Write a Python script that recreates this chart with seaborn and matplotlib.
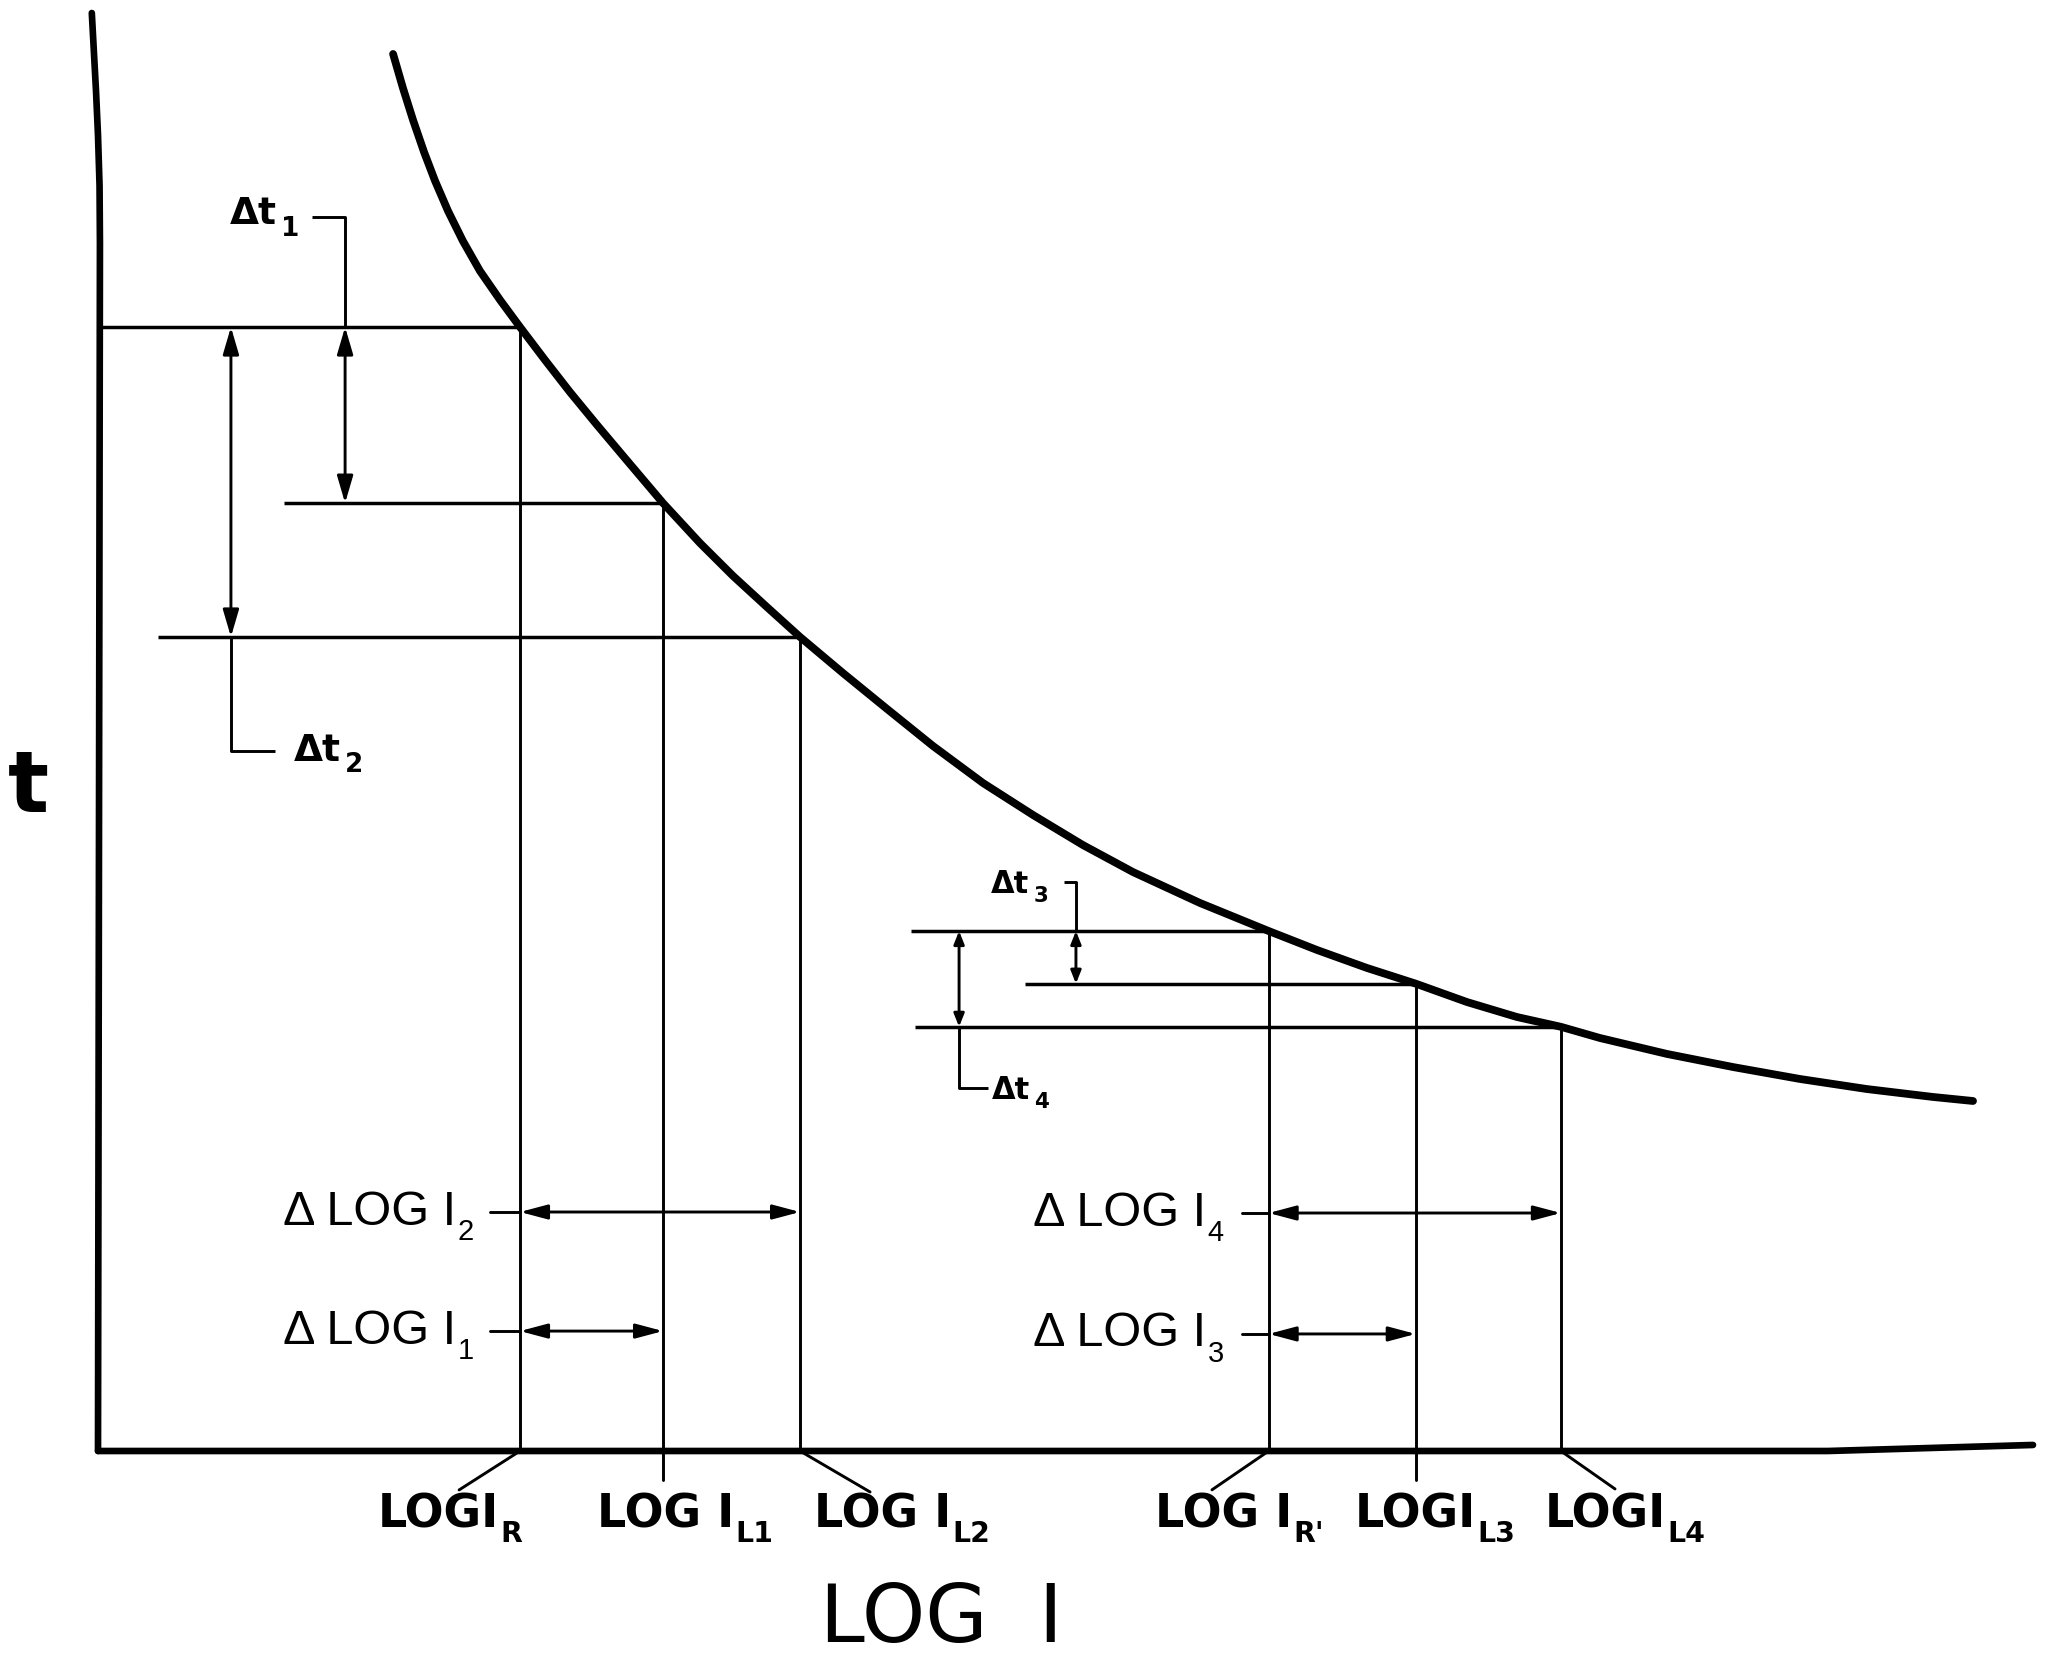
import matplotlib
matplotlib.use("Agg")
import matplotlib.pyplot as plt
import numpy as np
import pandas as pd
import seaborn as sns

# ---- data (t versus log I, arbitrary units) ----
curve_log_i = [1.525, 1.576, 1.628, 1.685, 1.742, 1.809, 1.886, 1.974, 2.078, 2.181,
               2.310, 2.439, 2.579, 2.723, 2.920, 3.111, 3.282, 3.457, 3.628, 3.850,
               4.078, 4.315, 4.574, 4.832, 5.090, 5.349, 5.695, 6.050, 6.300, 6.558,
               6.810, 7.075, 7.333, 7.560, 7.762, 8.109, 8.450, 8.796, 9.142, 9.483,
               9.690]
curve_t = [9.715, 9.478, 9.256, 9.033, 8.832, 8.623, 8.414, 8.206, 8.004, 7.816,
           7.587, 7.364, 7.135, 6.905, 6.592, 6.314, 6.085, 5.869, 5.661, 5.410,
           5.160, 4.903, 4.645, 4.423, 4.214, 4.026, 3.811, 3.616, 3.484, 3.359,
           3.250, 3.122, 3.018, 2.950, 2.872, 2.761, 2.670, 2.587, 2.517, 2.462,
           2.434]

# operating points on the curve: R, L1, L2, R', L3, L4
point_log_i = [2.181, 2.920, 3.628, 6.050, 6.810, 7.560]
point_t = [7.816, 6.592, 5.661, 3.616, 3.250, 2.950]
point_main = ["LOGI", "LOG I", "LOG I", "LOG I", "LOGI", "LOGI"]
point_sub = ["R", "L1", "L2", "R'", "L3", "L4"]

# time differences (pairs of operating points)
dt_names = ["1", "2", "3", "4"]
dt_pairs = [(0, 1), (0, 2), (3, 4), (3, 5)]

# log-current differences (pairs of operating points)
dlog_names = ["1", "2", "3", "4"]
dlog_pairs = [(0, 1), (0, 2), (3, 4), (3, 5)]

# ---- layout ----
h_line_start = [0.0, 0.96, 0.31, 4.20, 4.79, 4.22]
dt_arrow_x = [1.277, 0.687, 5.054, 4.45]
dt_leader = [
    [(1.105, 8.58), (1.277, 8.58), (1.277, 7.816)],
    [(0.687, 5.661), (0.687, 4.87), (0.915, 4.87)],
    [(4.99, 3.957), (5.054, 3.957), (5.054, 3.616)],
    [(4.45, 2.95), (4.45, 2.524), (4.60, 2.524)],
]
dt_label_xy = [(0.68, 8.60), (1.01, 4.87), (4.615, 3.94), (4.62, 2.51)]
dt_label_size = [27, 27, 22, 22]
dt_head = [(0.75, 0.22), (0.75, 0.22), (0.35, 0.14), (0.35, 0.14)]

dlog_row_t = [0.834, 1.662, 0.814, 1.655]
dlog_leader_x = [2.026, 2.026, 5.912, 5.912]
dlog_label_x = [0.956, 0.956, 4.832, 4.832]

tick_label_x = [1.447, 2.579, 3.700, 5.463, 6.496, 7.478]
tick_label_t = -0.445
tick_leader_end = [(1.866, -0.271), (2.920, -0.20), (3.99, -0.285),
                   (5.757, -0.27), (6.810, -0.20), (7.84, -0.264)]

y_axis_x = [-0.032, -0.022, -0.010, 0.000, 0.008, 0.010, 0.0]
y_axis_t = [10.0, 9.75, 9.45, 9.15, 8.8, 8.4, 0.0]
x_axis_x = [0.0, 8.94, 10.0]
x_axis_t = [0.0, 0.0, 0.042]

# ---- figure ----
sns.set_theme(style="white")
plt.rcParams["font.family"] = ["DejaVu Sans"]

fig = plt.figure(figsize=(20.5, 16.59), dpi=100)
fig.patch.set_facecolor("white")
ax = fig.add_axes([98 / 2050, 208 / 1659, 1935 / 2050, 1438 / 1659])
ax.set_xlim(0, 10)
ax.set_ylim(0, 10)
ax.axis("off")

K = "black"
THIN = 2.1

# axes drawn as heavy lines
ax.plot(y_axis_x, y_axis_t, color=K, lw=4.8, solid_capstyle="round",
        solid_joinstyle="round", clip_on=False)
ax.plot(x_axis_x, x_axis_t, color=K, lw=4.8, solid_capstyle="round",
        solid_joinstyle="round", clip_on=False)

# characteristic curve
curve = pd.DataFrame({"log_i": curve_log_i, "t": curve_t})
sns.lineplot(data=curve, x="log_i", y="t", sort=False, estimator=None, color=K,
             lw=5.6, ax=ax, solid_capstyle="round", solid_joinstyle="round")
ax.set_xlabel("")
ax.set_ylabel("")
ax.set_xlim(0, 10)
ax.set_ylim(0, 10)

# projection lines from each operating point
for x, t, x0 in zip(point_log_i, point_t, h_line_start):
    ax.plot([x0, x], [t, t], color=K, lw=THIN + 0.4, solid_capstyle="butt")
    ax.plot([x, x], [0, t], color=K, lw=THIN, solid_capstyle="butt")


def sub_text(x, y, main, sub, size, family, weight="normal", sub_scale=0.62,
             sub_dx=1.0, sub_dy=0.0):
    txt = ax.text(x, y, main, fontsize=size, family=family, weight=weight,
                  ha="left", va="center", color=K, clip_on=False)
    ax.annotate(sub, xy=(1, 0.18), xycoords=txt, xytext=(sub_dx, sub_dy),
                textcoords="offset points", fontsize=size * sub_scale,
                family=family, weight=weight, ha="left", va="center", color=K)
    return txt


# time-difference arrows
for i, (a, b) in enumerate(dt_pairs):
    x = dt_arrow_x[i]
    hl, hw = dt_head[i]
    ax.annotate("", xy=(x, point_t[b]), xytext=(x, point_t[a]),
                arrowprops=dict(arrowstyle=f"<|-|>,head_length={hl},head_width={hw}",
                                color=K, lw=THIN, shrinkA=0, shrinkB=0,
                                mutation_scale=22))
    lx, ly = zip(*dt_leader[i])
    ax.plot(lx, ly, color=K, lw=THIN, solid_capstyle="butt")
    tx, ty = dt_label_xy[i]
    sub_text(tx, ty, "Δt", dt_names[i], dt_label_size[i], ["DejaVu Sans"],
             weight="bold", sub_scale=0.7, sub_dx=3, sub_dy=-2)

# log-current difference arrows
for i, (a, b) in enumerate(dlog_pairs):
    t = dlog_row_t[i]
    ax.plot([dlog_leader_x[i], point_log_i[a]], [t, t], color=K, lw=THIN)
    ax.annotate("", xy=(point_log_i[b], t), xytext=(point_log_i[a], t),
                arrowprops=dict(arrowstyle="<|-|>,head_length=0.75,head_width=0.2",
                                color=K, lw=THIN, shrinkA=0, shrinkB=0,
                                mutation_scale=22))
    sub_text(dlog_label_x[i], t, "Δ LOG I", dlog_names[i], 35,
             ["Liberation Sans", "DejaVu Sans"], sub_scale=0.6, sub_dx=1, sub_dy=-4)

# axis labels for the operating points
for i in range(len(point_log_i)):
    ex, et = tick_leader_end[i]
    ax.plot([point_log_i[i], ex], [0, et], color=K, lw=THIN, clip_on=False)
    sub_text(tick_label_x[i], tick_label_t, point_main[i], point_sub[i], 33,
             ["Liberation Sans Narrow", "DejaVu Sans"], weight="bold",
             sub_scale=0.62, sub_dx=1, sub_dy=-3)

# axis titles
ax.text(-0.362, 4.61, "t", fontsize=62, weight="bold", ha="center", va="center",
        color=K, clip_on=False)
ax.text(4.357, -1.175, "LOG  I", fontsize=58, ha="center",
        va="center", color=K, clip_on=False)

fig.savefig("out.png", dpi=100, facecolor="white")
